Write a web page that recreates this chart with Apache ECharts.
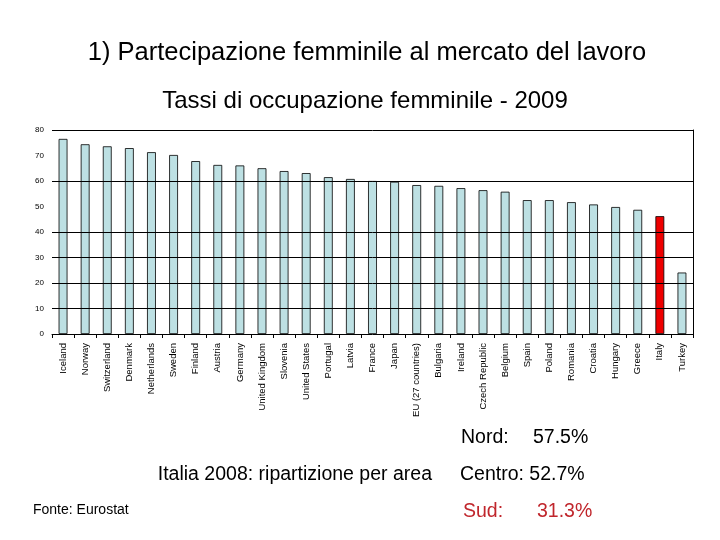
<!DOCTYPE html>
<html>
<head>
<meta charset="utf-8">
<script src="https://cdn.jsdelivr.net/npm/echarts@6/dist/echarts.min.js"></script>
<style>
html,body{margin:0;padding:0;background:#fff;}
#chart{width:720px;height:540px;}
</style>
</head>
<body>
<div id="chart"></div>
<script>
var categories = ['Iceland','Norway','Switzerland','Denmark','Netherlands','Sweden','Finland','Austria','Germany','United Kingdom','Slovenia','United States','Portugal','Latvia','France','Japan','EU (27 countries)','Bulgaria','Ireland','Czech Republic','Belgium','Spain','Poland','Romania','Croatia','Hungary','Greece','Italy','Turkey'];
var values = [76.5,74.4,73.6,72.9,71.3,70.2,67.8,66.3,66.1,65.0,63.9,63.1,61.5,60.8,60.0,59.7,58.4,58.1,57.2,56.4,55.8,52.5,52.5,51.7,50.8,49.8,48.7,46.2,24.1];
var highlight = 'Italy';
var yTicks = [0,10,20,30,40,50,60,70,80];
var gridLineValues = [10,20,30,40,60,80];
var areaLabels = ['Nord:','Centro:','Sud:'];
var areaValues = ['57.5%','52.7%','31.3%'];

var chart = echarts.init(document.getElementById('chart'));
var font = 'Liberation Sans, Arial, sans-serif';

var barData = values.map(function(v,i){
  var isHi = categories[i] === highlight;
  return {value: v, itemStyle: {color: isHi ? '#ee0000' : '#bde0e3'}};
});

var option = {
  backgroundColor: '#fff',
  animation: false,
  grid: {left: 52, right: 27, top: 130, bottom: 206},
  xAxis: {
    type: 'category',
    data: categories,
    axisLine: {lineStyle: {color: '#000', width: 1}},
    axisTick: {show: true, length: 4, lineStyle: {color: '#000'}},
    axisLabel: {rotate: 90, fontSize: 9.5, color: '#000', fontFamily: font, margin: 9, interval: 0}
  },
  yAxis: [{
    type: 'value',
    min: yTicks[0],
    max: yTicks[yTicks.length-1],
    interval: 10,
    axisLine: {show: false},
    axisTick: {show: false},
    splitLine: {show: false},
    axisLabel: {fontSize: 8, color: '#000', fontFamily: font, margin: 8}
  },{
    type: 'value',
    position: 'right',
    min: 0, max: 80, interval: 10,
    axisLine: {show: true, lineStyle: {color: '#000'}},
    axisTick: {show: false},
    axisLabel: {show: false},
    splitLine: {show: false}
  }],
  series: [{
    type: 'line',
    data: [],
    z: 1,
    markLine: {
      silent: true,
      symbol: 'none',
      label: {show: false},
      lineStyle: {color: '#000', type: 'solid', width: 1},
      data: gridLineValues.map(function(v){ return {yAxis: v}; })
    }
  },{
    type: 'bar',
    data: barData,
    barWidth: '40%',
    itemStyle: {borderColor: '#000', borderWidth: 0.8},
    z: 3
  }],
  graphic: [
    {type:'text', x:367, y:53, style:{text:'1) Partecipazione femminile al mercato del lavoro', font:'25.5px '+font, fill:'#000', textAlign:'center', textVerticalAlign:'middle'}},
    {type:'text', x:365, y:101, style:{text:'Tassi di occupazione femminile - 2009', font:'24px '+font, fill:'#000', textAlign:'center', textVerticalAlign:'middle'}},
    {type:'text', x:461, y:438, style:{text:areaLabels[0], font:'19.5px '+font, fill:'#000', textVerticalAlign:'middle'}},
    {type:'text', x:533, y:438, style:{text:areaValues[0], font:'19.5px '+font, fill:'#000', textVerticalAlign:'middle'}},
    {type:'text', x:460, y:475, style:{text:areaLabels[1]+' '+areaValues[1], font:'19.5px '+font, fill:'#000', textVerticalAlign:'middle'}},
    {type:'text', x:463, y:512, style:{text:areaLabels[2], font:'19.5px '+font, fill:'#c0262c', textVerticalAlign:'middle'}},
    {type:'text', x:537, y:512, style:{text:areaValues[2], font:'19.5px '+font, fill:'#c0262c', textVerticalAlign:'middle'}},
    {type:'text', x:432, y:475, style:{text:'Italia 2008: ripartizione per area', font:'19.5px '+font, fill:'#000', textAlign:'right', textVerticalAlign:'middle'}},
    {type:'text', x:33, y:510, style:{text:'Fonte: Eurostat', font:'14px '+font, fill:'#000', textVerticalAlign:'middle'}}
  ]
};
chart.setOption(option);
</script>
</body>
</html>
